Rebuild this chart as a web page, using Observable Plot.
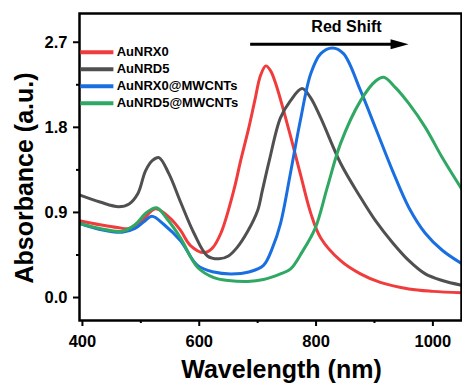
<!DOCTYPE html>
<html>
<head>
<meta charset="utf-8">
<script src="https://cdn.jsdelivr.net/npm/d3@7"></script>
<script src="https://cdn.jsdelivr.net/npm/@observablehq/plot@0.6"></script>
<style>
  html, body { margin: 0; padding: 0; background: #fff; }
  #chart svg { font-family: "Liberation Sans", Arial, sans-serif; display: block; }
</style>
</head>
<body>
<div id="chart"></div>
<script>
// ---- Data ----
const seriesNames = ["AuNRX0", "AuNRD5", "AuNRX0@MWCNTs", "AuNRD5@MWCNTs"];
const seriesColors = ["#F03C3C", "#505050", "#1A6FE0", "#2EA862"];

const redWavelength = [397,430,460,480,500,525,550,568,585,608,622,637,659,671,685,695,705,714,722,731,754,773,791,808,842,876,910,959,1000,1049];
const redAbsorbance = [0.81,0.77,0.74,0.73,0.80,0.94,0.84,0.71,0.55,0.475,0.52,0.68,1.13,1.45,1.80,2.08,2.35,2.45,2.40,2.26,1.76,1.31,0.89,0.63,0.39,0.25,0.16,0.09,0.065,0.05];

const grayWavelength = [397,430,462,480,495,508,520,531,548,568,591,614,634,650,665,683,700,708,720,739,756,776,790,808,842,876,902,931,959,987,1016,1049];
const grayAbsorbance = [1.08,1.01,0.96,0.99,1.10,1.34,1.45,1.48,1.31,1.01,0.68,0.44,0.41,0.44,0.53,0.70,0.92,1.13,1.45,1.90,2.08,2.21,2.12,1.90,1.42,1.06,0.81,0.58,0.39,0.25,0.18,0.13];

const blueWavelength = [397,430,468,490,505,519,540,568,597,625,654,685,710,725,739,756,773,791,808,828,847,876,902,931,959,987,1016,1049];
const blueAbsorbance = [0.78,0.72,0.69,0.73,0.80,0.86,0.77,0.60,0.34,0.27,0.25,0.27,0.34,0.52,0.78,1.31,1.87,2.37,2.58,2.64,2.58,2.19,1.79,1.34,0.95,0.68,0.50,0.36];

const greenWavelength = [397,430,468,490,510,527,545,568,597,625,650,683,710,739,756,776,799,819,842,876,902,916,936,959,987,1016,1049];
const greenAbsorbance = [0.78,0.73,0.70,0.77,0.90,0.95,0.83,0.63,0.32,0.21,0.18,0.17,0.19,0.25,0.30,0.48,0.74,1.16,1.63,2.08,2.29,2.33,2.22,2.05,1.80,1.48,1.15];

const xTicks = [400, 600, 800, 1000];
const xMinorTicks = [500, 700, 900];
const yTicks = [0.0, 0.9, 1.8, 2.7];
const yMinorTicks = [0.45, 1.35, 2.25];

const xLabel = "Wavelength (nm)";
const yLabel = "Absorbance (a.u.)";
const annotationLabel = "Red Shift";

// ---- Build table ----
const seriesData = [
  [redWavelength, redAbsorbance],
  [grayWavelength, grayAbsorbance],
  [blueWavelength, blueAbsorbance],
  [greenWavelength, greenAbsorbance]
];
const rows = [];
seriesData.forEach(([wl, ab], i) => {
  wl.forEach((w, j) => rows.push({series: seriesNames[i], wavelength: w, absorbance: ab[j]}));
});

// legend entries placed in data space (top-left inside the frame)
const legendTop = 2.594, legendStep = 0.18;
const legendRows = seriesNames.map((s, i) => ({series: s, ly: legendTop - i * legendStep}));

// arrow head symbol (filled, pointing right)
const arrowHead = {
  draw(ctx) {
    ctx.moveTo(9, 0);
    ctx.lineTo(-9, -5);
    ctx.lineTo(-9, 5);
    ctx.closePath();
  }
};

const fontFamily = '"Liberation Sans", Arial, sans-serif';

const chart = Plot.plot({
  width: 462,
  height: 383,
  marginLeft: 79,
  marginRight: 1,
  marginTop: 13,
  marginBottom: 63,
  style: {fontFamily, background: "white", color: "black", overflow: "visible"},
  x: {domain: [395, 1049]},
  y: {domain: [-0.243, 3.004]},
  color: {domain: seriesNames, range: seriesColors},
  marks: [
    Plot.axisX({ticks: xTicks, tickSize: 6, tickPadding: 9, strokeWidth: 2, fontSize: 16.5, fontWeight: "bold", tickFormat: d3.format("d"), label: null}),
    Plot.axisX({ticks: xMinorTicks, tickSize: 3, strokeWidth: 2, text: null, label: null}),
    Plot.axisY({ticks: yTicks, tickSize: 6, tickPadding: 6, strokeWidth: 2, fontSize: 16.5, fontWeight: "bold", tickFormat: d3.format(".1f"), label: null}),
    Plot.axisY({ticks: yMinorTicks, tickSize: 3, strokeWidth: 2, text: null, label: null}),
    Plot.line(rows, {x: "wavelength", y: "absorbance", z: "series", stroke: "series", strokeWidth: 3, curve: "catmull-rom"}),
    Plot.frame({stroke: "black", strokeWidth: 2.5}),
    // legend
    Plot.ruleY(legendRows, {y: "ly", x1: 397.4, x2: 453.9, stroke: "series", strokeWidth: 4}),
    Plot.text(legendRows, {x: 458.7, y: "ly", text: "series", textAnchor: "start", lineAnchor: "middle", fontWeight: "bold", fontSize: 13, fill: "black"}),
    // red shift annotation
    Plot.ruleY([2.68], {x1: 688, x2: 935, stroke: "black", strokeWidth: 3}),
    Plot.dot([2.68], {x: 943, y: d => d, symbol: arrowHead, r: 5, fill: "black", stroke: null}),
    Plot.text([annotationLabel], {x: 852, y: 2.86, text: d => d, lineAnchor: "middle", fontWeight: "bold", fontSize: 16, fill: "black"}),
    // axis titles
    Plot.text([xLabel], {frameAnchor: "bottom", dx: 11, dy: 49, text: d => d, textAnchor: "middle", lineAnchor: "middle", fontWeight: "bold", fontSize: 25, fill: "black"}),
    Plot.text([yLabel], {frameAnchor: "left", dx: -55, dy: 11, rotate: -90, text: d => d, textAnchor: "middle", lineAnchor: "middle", fontWeight: "bold", fontSize: 25, fill: "black"})
  ]
});

document.getElementById("chart").appendChild(chart);
</script>
</body>
</html>
